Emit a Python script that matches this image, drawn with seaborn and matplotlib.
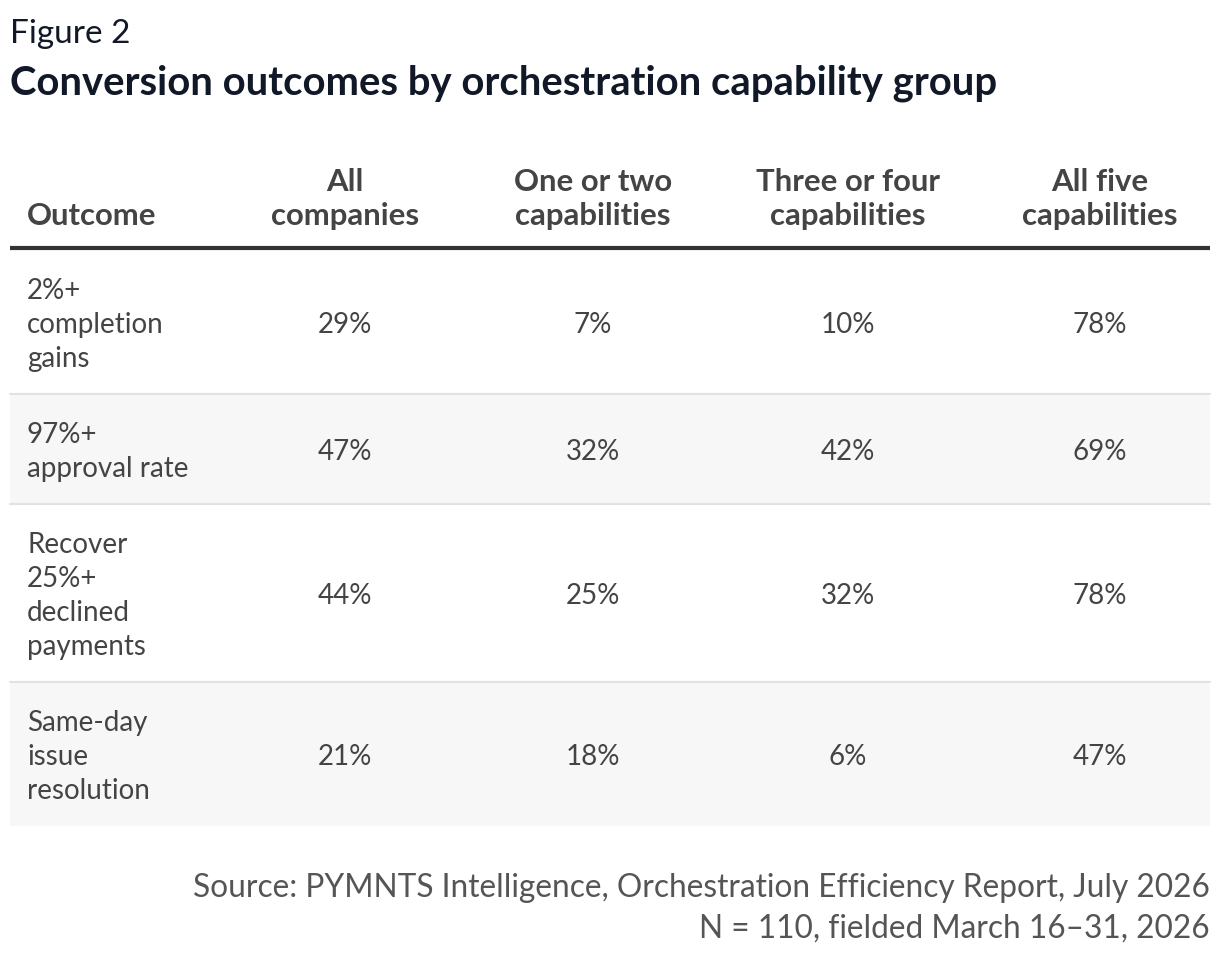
import matplotlib.pyplot as plt
import seaborn as sns

# ---- data ----
columns = ["All\ncompanies", "One or two\ncapabilities", "Three or four\ncapabilities", "All five\ncapabilities"]
outcomes = ["2%+\ncompletion\ngains", "97%+\napproval rate", "Recover\n25%+\ndeclined\npayments",
            "Same-day\nissue\nresolution"]
all_companies = [29, 47, 44, 21]
one_or_two = [7, 32, 25, 18]
three_or_four = [10, 42, 32, 6]
all_five = [78, 69, 78, 47]

title_small = "Figure 2"
title = "Conversion outcomes by orchestration capability group"
source = "Source: PYMNTS Intelligence, Orchestration Efficiency Report, July 2026\nN = 110, fielded March 16\u201331, 2026"

sns.set_theme(style="white")
plt.rcParams["font.family"] = ["Lato", "DejaVu Sans"]

W, H = 1220, 954
fig = plt.figure(figsize=(W / 100, H / 100), dpi=100)
ax = fig.add_axes([0, 0, 1, 1])
ax.set_xlim(0, W)
ax.set_ylim(H, 0)
ax.axis("off")

text_c = "#444444"
left, right = 10, 1210
col_x = [345, 593, 848, 1100]
line_h = 34
pad = 42
body_fs = 20
head_fs = 22.4

ax.text(10, 34, title_small, fontsize=24, color="#111827", va="center", ha="left")
ax.text(10, 83, title, fontsize=28.8, fontweight="bold", color="#111827", va="center", ha="left")

# header
ax.text(27, 216, "Outcome", fontsize=head_fs, fontweight="bold", color=text_c, ha="left", va="center")
for x, c in zip(col_x, columns):
    ax.text(x, 199, c, fontsize=head_fs, fontweight="bold", color=text_c, ha="center", va="center",
            linespacing=1.26)
ax.plot([left, right], [249, 249], color="#333333", lw=3, solid_capstyle="butt")

# rows
y = 251
values = list(zip(all_companies, one_or_two, three_or_four, all_five))
for i, (name, vals) in enumerate(zip(outcomes, values)):
    n_lines = name.count("\n") + 1
    h = pad + line_h * n_lines
    if i % 2 == 1:
        ax.fill_between([left, right], y, y + h, color="#f7f7f7", lw=0)
    mid = y + h / 2
    ax.text(27, mid + 2, name, fontsize=body_fs, color=text_c, ha="left", va="center", linespacing=1.38)
    for x, v in zip(col_x, vals):
        ax.text(x, mid + 2, f"{v}%", fontsize=body_fs, color=text_c, ha="center", va="center")
    y += h
    if i < len(outcomes) - 1:
        ax.plot([left, right], [y, y], color="#e2e2e2", lw=1.5)

ax.text(1210, 908, source, fontsize=22.8, color="#555555", ha="right", va="center", linespacing=1.42)

fig.savefig("out.png", dpi=100)
